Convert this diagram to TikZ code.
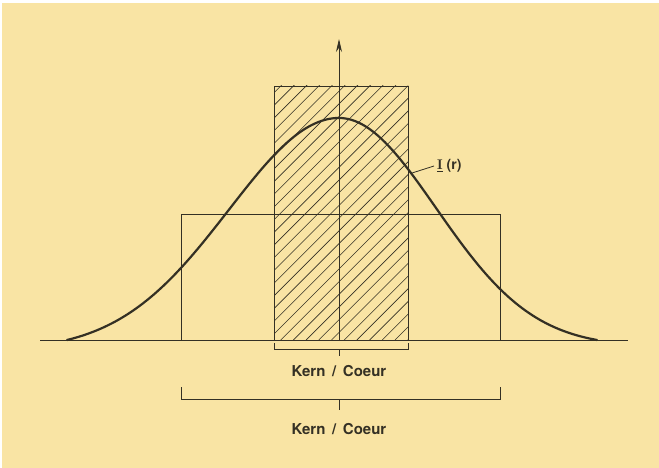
\documentclass[tikz,border=0pt]{standalone}
\usepackage{fontspec}
\setsansfont{TeX Gyre Heros}
\usetikzlibrary{arrows.meta}
\definecolor{paper}{RGB}{249,228,164}
\definecolor{ink}{RGB}{52,48,36}
\tikzset{
  lbl/.style={font=\sffamily\bfseries\fontsize{15}{18}\selectfont, text=ink, inner sep=0pt},
  thin/.style={draw=ink, line width=0.8pt},
  hatch/.style={draw=ink, line width=0.6pt}
}
\begin{document}
\begin{tikzpicture}[x=1pt,y=-1pt]
\fill[white] (0,0) rectangle (659,468);
\fill[paper] (2,3) rectangle (659,468);
\useasboundingbox (0,0) rectangle (659,468);
% corners
\coordinate (o) at (339,340);
\coordinate (top) at (339,39);
\coordinate (bl) at (40,340);
\coordinate (br) at (628,340);
\coordinate (kl) at (274,340);
\coordinate (kr) at (408,86);
\coordinate (wl) at (181,340);
\coordinate (wr) at (500,214);
% hatching of the core
\begin{scope}
\clip (kl) rectangle (kr);
\foreach \k in {-260,-247.3,...,140}
  \draw[hatch] (274+\k,340) -- ++(262,-262);
\end{scope}
\draw[thin] (kl) rectangle (kr);
\draw[thin] (wl) rectangle (wr);
\draw[thin] (bl) -- (br);
\draw[thin, -{Stealth[length=13pt,width=6pt]}] (o) -- (top);
% profile
\draw[ink, line width=2.2pt, line cap=round]
  plot[domain=-272:0, samples=80]
  ({339+\x}, {340-222*(exp(-0.5*(\x/110)^2)-0.047)/0.953})
  -- plot[domain=0:258, samples=80]
  ({339+\x}, {340-222*(exp(-0.5*(\x/97)^2)-0.029)/0.971});
\coordinate (foot) at (412,173);
\node[lbl, anchor=west, font=\sffamily\bfseries\fontsize{14}{16}\selectfont] (intens) at (437,166) {$\underline{\mathbf{I}}$\;(r)};
\draw[thin] (foot) -- ([xshift=-3pt]intens.west);
% brackets
\coordinate (s1) at (274,343);
\coordinate (s2) at (408,343);
\draw[thin] (s1) -- ++(0,6) -| (s2);
\draw[thin] (339,349) -- ++(0,7);
\node[lbl] (kern) at (339,371) {Kern \,/\, Coeur};
\coordinate (b1) at (181,387);
\coordinate (b2) at (500,387);
\draw[thin] (b1) -- ++(0,12) -| (b2);
\draw[thin] (339,399) -- ++(0,11);
\node[lbl] (coeur) at (339,429) {Kern \,/\, Coeur};
\end{tikzpicture}
\end{document}
